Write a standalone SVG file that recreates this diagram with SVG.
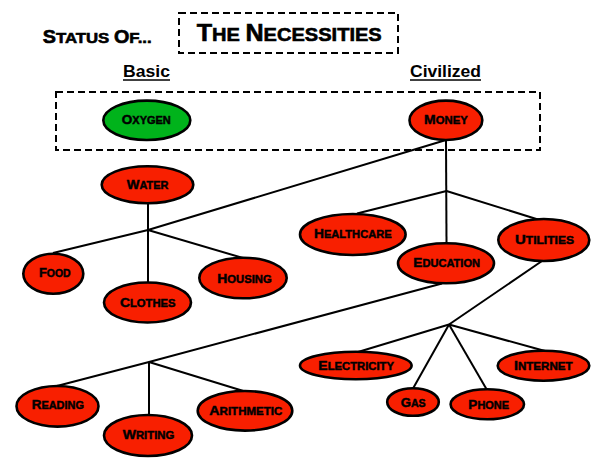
<svg xmlns="http://www.w3.org/2000/svg" width="600" height="467" viewBox="0 0 600 467">
<style>
.n ellipse{stroke:#000;stroke-width:2.6}
.r{fill:#f81f00}
.g{fill:#00b31b}
.lbl{font-family:"Liberation Sans",Arial,sans-serif;font-weight:bold;font-size:10.2px;fill:#000;text-anchor:middle;stroke:#000;stroke-width:0.45}
.lbl .c{font-size:12.6px}
.hdr{font-family:"Liberation Sans",Arial,sans-serif;font-weight:bold;fill:#000;stroke:#000;stroke-width:0.6}
.sub{font-family:"Liberation Sans",Arial,sans-serif;font-weight:bold;font-size:16.5px;fill:#000;text-anchor:middle}
.conn line,.conn polyline{stroke:#000;stroke-width:2;fill:none}
.dash{fill:none;stroke:#000;stroke-width:2;stroke-dasharray:7 4}
.ul{stroke:#000;stroke-width:1.5}
</style>
<rect width="600" height="467" fill="#fff"/>

<g id="header">
<text class="hdr" x="42.7" y="43.3" font-size="15" textLength="109" lengthAdjust="spacingAndGlyphs"><tspan font-size="17.7">S</tspan>TATUS <tspan font-size="17.7">O</tspan>F...</text>
<rect class="dash" x="179" y="13" width="219" height="40"/>
<text class="hdr" x="196.7" y="40.7" font-size="18.6" textLength="185" lengthAdjust="spacingAndGlyphs"><tspan font-size="23.3">T</tspan>HE <tspan font-size="23.3">N</tspan>ECESSITIES</text>
</g>

<g id="label-basic">
<text class="sub" x="146.5" y="77" textLength="47" lengthAdjust="spacingAndGlyphs">Basic</text>
<line class="ul" x1="123" y1="80" x2="170" y2="80"/>
</g>
<g id="label-civilized">
<text class="sub" x="445.5" y="77" textLength="71" lengthAdjust="spacingAndGlyphs">Civilized</text>
<line class="ul" x1="410" y1="80" x2="481" y2="80"/>
</g>

<rect id="group-box" class="dash" x="56" y="92" width="484" height="58"/>

<g id="connectors" class="conn">
<polyline points="446,140 148,230 53,253"/>
<line x1="148" y1="203" x2="148" y2="283"/>
<line x1="148" y1="230" x2="243" y2="258"/>
<line x1="446" y1="140" x2="446.5" y2="243"/>
<line x1="446.5" y1="191" x2="357" y2="213.5"/>
<line x1="446.5" y1="191" x2="538" y2="219.5"/>
<polyline points="442,283.5 149,362 55,386.5"/>
<line x1="149" y1="362" x2="149" y2="415.5"/>
<line x1="149" y1="362" x2="245" y2="391.5"/>
<line x1="542" y1="261" x2="449" y2="324.5"/>
<line x1="449" y1="324.5" x2="358" y2="352"/>
<line x1="449" y1="324.5" x2="413" y2="388.5"/>
<line x1="449" y1="324.5" x2="487" y2="390"/>
<line x1="449" y1="324.5" x2="545" y2="351"/>
</g>

<g id="oxygen" class="n"><ellipse class="g" cx="146.8" cy="120.3" rx="43.5" ry="19.7"/><text class="lbl" x="146.3" y="123.7" textLength="49" lengthAdjust="spacingAndGlyphs"><tspan class="c">O</tspan>XYGEN</text></g>
<g id="money" class="n"><ellipse class="r" cx="445.9" cy="120.3" rx="36.4" ry="19.7"/><text class="lbl" x="445.9" y="123.7" textLength="43.6" lengthAdjust="spacingAndGlyphs"><tspan class="c">M</tspan>ONEY</text></g>
<g id="water" class="n"><ellipse class="r" cx="147.5" cy="184.7" rx="45.8" ry="18.5"/><text class="lbl" x="147.5" y="189.3" textLength="41.6" lengthAdjust="spacingAndGlyphs"><tspan class="c">W</tspan>ATER</text></g>
<g id="food" class="n"><ellipse class="r" cx="53.3" cy="273.7" rx="30" ry="20"/><text class="lbl" x="54.8" y="277.3" textLength="31.7" lengthAdjust="spacingAndGlyphs"><tspan class="c">F</tspan>OOD</text></g>
<g id="clothes" class="n"><ellipse class="r" cx="147.5" cy="302.5" rx="43.5" ry="20"/><text class="lbl" x="147.8" y="306.7" textLength="55.7" lengthAdjust="spacingAndGlyphs"><tspan class="c">C</tspan>LOTHES</text></g>
<g id="housing" class="n"><ellipse class="r" cx="243" cy="278" rx="43.7" ry="20.3"/><text class="lbl" x="244.5" y="282.7" textLength="54.4" lengthAdjust="spacingAndGlyphs"><tspan class="c">H</tspan>OUSING</text></g>
<g id="healthcare" class="n"><ellipse class="r" cx="352.8" cy="234.5" rx="52.8" ry="20.5"/><text class="lbl" x="352.8" y="238.3" textLength="77.7" lengthAdjust="spacingAndGlyphs"><tspan class="c">H</tspan>EALTHCARE</text></g>
<g id="education" class="n"><ellipse class="r" cx="446" cy="263.3" rx="48" ry="20"/><text class="lbl" x="446.7" y="266.7" textLength="66.7" lengthAdjust="spacingAndGlyphs"><tspan class="c">E</tspan>DUCATION</text></g>
<g id="utilities" class="n"><ellipse class="r" cx="543.8" cy="240" rx="45.5" ry="21"/><text class="lbl" x="544.5" y="244.3" textLength="59" lengthAdjust="spacingAndGlyphs"><tspan class="c">U</tspan>TILITIES</text></g>
<g id="reading" class="n"><ellipse class="r" cx="57.5" cy="406.3" rx="41" ry="20.3"/><text class="lbl" x="57.8" y="409.3" textLength="52.3" lengthAdjust="spacingAndGlyphs"><tspan class="c">R</tspan>EADING</text></g>
<g id="writing" class="n"><ellipse class="r" cx="148" cy="435.5" rx="44" ry="20.5"/><text class="lbl" x="148.5" y="439" textLength="51.7" lengthAdjust="spacingAndGlyphs"><tspan class="c">W</tspan>RITING</text></g>
<g id="arithmetic" class="n"><ellipse class="r" cx="245" cy="410.8" rx="47.3" ry="19.8"/><text class="lbl" x="245.8" y="415" textLength="73" lengthAdjust="spacingAndGlyphs"><tspan class="c">A</tspan>RITHMETIC</text></g>
<g id="electricity" class="n"><ellipse class="r" cx="355.8" cy="365.5" rx="55.8" ry="13.8"/><text class="lbl" x="356.2" y="370.2" textLength="75.7" lengthAdjust="spacingAndGlyphs"><tspan class="c">E</tspan>LECTRICITY</text></g>
<g id="gas" class="n"><ellipse class="r" cx="413" cy="402" rx="25.8" ry="13.8"/><text class="lbl" x="413.2" y="406.5" textLength="25" lengthAdjust="spacingAndGlyphs"><tspan class="c">G</tspan>AS</text></g>
<g id="phone" class="n"><ellipse class="r" cx="487.3" cy="404.3" rx="36.7" ry="15"/><text class="lbl" x="488.7" y="409" textLength="40.7" lengthAdjust="spacingAndGlyphs"><tspan class="c">P</tspan>HONE</text></g>
<g id="internet" class="n"><ellipse class="r" cx="543.5" cy="365.7" rx="45.8" ry="15"/><text class="lbl" x="543.3" y="370.2" textLength="58.7" lengthAdjust="spacingAndGlyphs"><tspan class="c">I</tspan>NTERNET</text></g>
</svg>
